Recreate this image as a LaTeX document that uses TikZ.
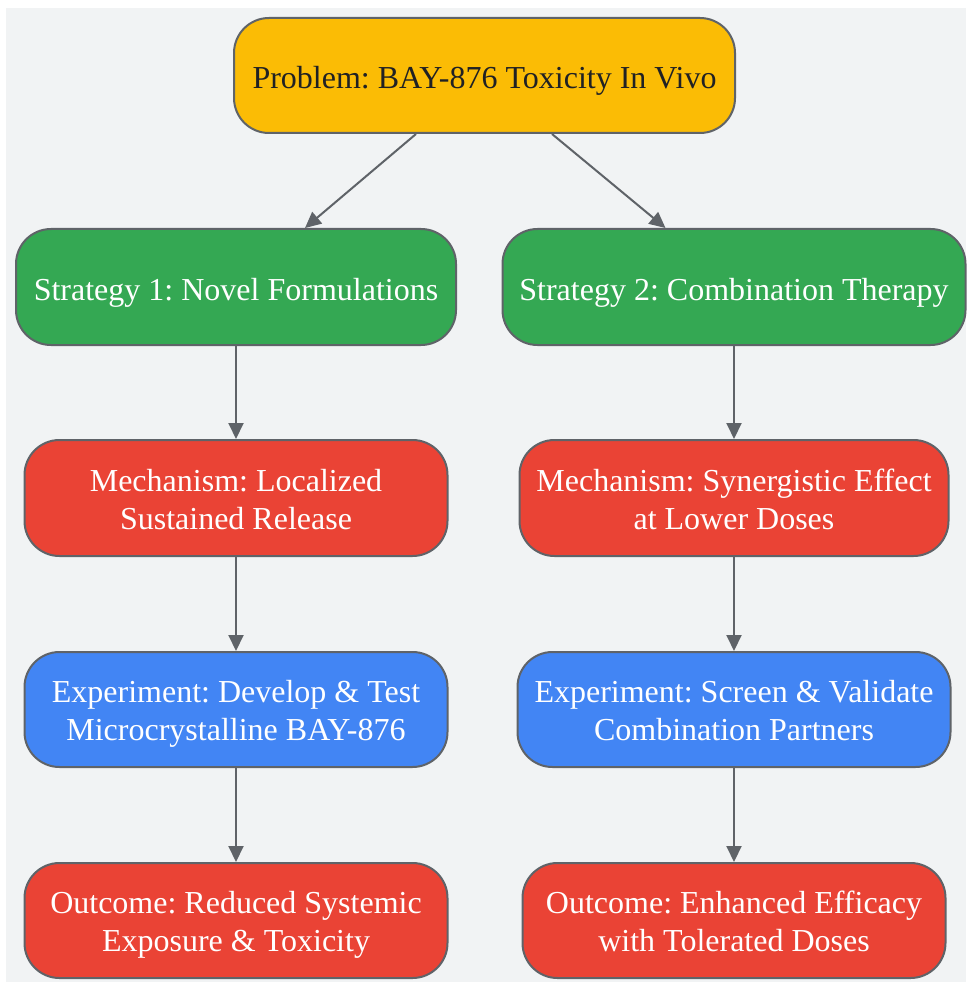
\documentclass[tikz,border=0pt]{standalone}
\usepackage{fontspec}
\setmainfont{Liberation Serif}
\usetikzlibrary{arrows.meta,calc}
\definecolor{bgc}{HTML}{F1F3F4}
\definecolor{yel}{HTML}{FBBC05}
\definecolor{grn}{HTML}{34A853}
\definecolor{rd}{HTML}{EA4335}
\definecolor{blu}{HTML}{4285F4}
\definecolor{edge}{HTML}{5F6368}
\definecolor{dark}{HTML}{202124}
\tikzset{
  box/.style={draw=edge, line width=2pt, rounded corners=35pt, align=center,
    font=\frenchspacing\fontsize{32}{38}\selectfont, text=white, inner sep=0pt},
  oneline/.style={text height=33pt, text depth=6pt},
  twoline/.style={text height=68pt, text depth=6pt},
  conn/.style={draw=edge, line width=2pt, -{Triangle[length=16pt,width=15pt]}}
}
\begin{document}
\begin{tikzpicture}[x=1pt,y=-1pt]
\useasboundingbox (0,0) rectangle (966,984);
\fill[white] (0,0) rectangle (966,984);
\fill[bgc] (6,8) rectangle (966,982);
\node[box, oneline, fill=yel, text=dark, minimum width=501pt, minimum height=115pt] (p) at (484.5,75.5) {Problem: BAY-876 Toxicity In Vivo};
\node[box, oneline, fill=grn, minimum width=440pt, minimum height=116pt] (s1) at (236,287) {Strategy 1: Novel Formulations};
\node[box, oneline, fill=grn, minimum width=463pt, minimum height=116pt] (s2) at (734,287) {Strategy 2: Combination Therapy};
\node[box, twoline, fill=rd, minimum width=423pt, minimum height=116pt] (m1) at (236,498) {Mechanism: Localized\\Sustained Release};
\node[box, twoline, fill=rd, minimum width=429pt, minimum height=116pt] (m2) at (734,498) {Mechanism: Synergistic Effect\\at Lower Doses};
\node[box, twoline, fill=blu, minimum width=423pt, minimum height=115pt] (e1) at (236,709.5) {Experiment: Develop \& Test\\Microcrystalline BAY-876};
\node[box, twoline, fill=blu, minimum width=433pt, minimum height=115pt] (e2) at (734,709.5) {Experiment: Screen \& Validate\\Combination Partners};
\node[box, twoline, fill=rd, minimum width=423pt, minimum height=115pt] (o1) at (236,920.5) {Outcome: Reduced Systemic\\Exposure \& Toxicity};
\node[box, twoline, fill=rd, minimum width=423pt, minimum height=115pt] (o2) at (734,920.5) {Outcome: Enhanced Efficacy\\with Tolerated Doses};
\draw[conn] ($(p.south)+(-68.5,0)$) -- ($(s1.north)+(69,0)$);
\draw[conn] ($(p.south)+(67.5,0)$) -- ($(s2.north)+(-68.5,0)$);
\draw[conn] (s1.south) -- (m1.north);
\draw[conn] (m1.south) -- (e1.north);
\draw[conn] (e1.south) -- (o1.north);
\draw[conn] (s2.south) -- (m2.north);
\draw[conn] (m2.south) -- (e2.north);
\draw[conn] (e2.south) -- (o2.north);
\end{tikzpicture}
\end{document}
